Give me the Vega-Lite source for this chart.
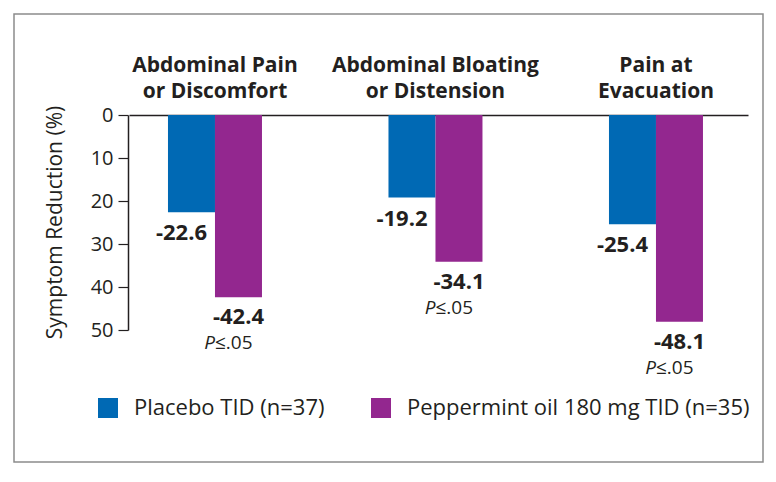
{
  "$schema": "https://vega.github.io/schema/vega-lite/v6.json",
  "width": 749,
  "height": 448,
  "autosize": {"type": "none"},
  "padding": {"left": 14, "top": 14, "right": 13, "bottom": 20},
  "background": "white",
  "config": {
    "view": {"stroke": "#8c8c8c", "strokeWidth": 1.5},
    "font": "Open Sans"
  },
  "data": {
    "values": [
      {"symptom": "Abdominal Pain|or Discomfort", "group": "Placebo TID (n=37)", "value": -22.6, "significant": false},
      {"symptom": "Abdominal Pain|or Discomfort", "group": "Peppermint oil 180 mg TID (n=35)", "value": -42.4, "significant": true},
      {"symptom": "Abdominal Bloating|or Distension", "group": "Placebo TID (n=37)", "value": -19.2, "significant": false},
      {"symptom": "Abdominal Bloating|or Distension", "group": "Peppermint oil 180 mg TID (n=35)", "value": -34.1, "significant": true},
      {"symptom": "Pain at|Evacuation", "group": "Placebo TID (n=37)", "value": -25.4, "significant": false},
      {"symptom": "Pain at|Evacuation", "group": "Peppermint oil 180 mg TID (n=35)", "value": -48.1, "significant": true}
    ]
  },
  "encoding": {
    "x": {
      "field": "symptom",
      "type": "nominal",
      "sort": null,
      "scale": {"range": [115, 734], "paddingInner": 0.5737, "paddingOuter": 0.1905, "align": 0.464},
      "axis": {
        "orient": "top",
        "offset": -101,
        "title": null,
        "ticks": false,
        "domainColor": "#231f20",
        "domainWidth": 1.5,
        "labelExpr": "split(datum.label, '|')",
        "labelFontSize": 21,
        "labelFontWeight": "bold",
        "labelColor": "#231f20",
        "labelLineHeight": 26,
        "labelPadding": 40,
        "labelLimit": 0,
        "labelAngle": 0,
        "labelOverlap": false,
        "labelBound": false
      }
    },
    "y": {
      "field": "value",
      "type": "quantitative",
      "scale": {"domain": [-50, 0], "range": [316, 101], "nice": false, "zero": false},
      "axis": {
        "orient": "left",
        "offset": -114,
        "values": [-50, -40, -30, -20, -10, 0],
        "labelExpr": "abs(datum.value)",
        "grid": false,
        "tickSize": 10,
        "tickColor": "#231f20",
        "tickWidth": 1.2,
        "domainColor": "#231f20",
        "domainWidth": 1.5,
        "labelFontSize": 20,
        "labelColor": "#231f20",
        "labelPadding": 5,
        "labelOverlap": false,
        "title": "Symptom Reduction (%)",
        "titleFontSize": 21,
        "titleFontWeight": "normal",
        "titleColor": "#231f20",
        "titleX": -73,
        "titleY": 208,
        "titleAngle": -90,
        "titleAlign": "center",
        "titleBaseline": "middle"
      }
    }
  },
  "layer": [
    {
      "mark": {"type": "bar"},
      "encoding": {
        "xOffset": {"field": "group", "type": "nominal", "scale": {"domain": ["Placebo TID (n=37)", "Peppermint oil 180 mg TID (n=35)"], "paddingInner": 0, "paddingOuter": 0}},
        "color": {
          "field": "group",
          "type": "nominal",
          "scale": {"domain": ["Placebo TID (n=37)", "Peppermint oil 180 mg TID (n=35)"], "range": ["#0069b4", "#93278f"]},
          "legend": {
            "orient": "none",
            "legendX": 83,
            "legendY": 383,
            "direction": "horizontal",
            "title": null,
            "symbolType": "square",
            "symbolSize": 400,
            "symbolStrokeWidth": 0,
            "symbolOpacity": 1,
            "labelFontSize": 22,
            "labelColor": "#231f20",
            "labelOffset": 15,
            "columnPadding": 45,
            "labelLimit": 0,
            "padding": 0
          }
        }
      }
    },
    {
      "transform": [
        {"filter": "datum.group === 'Placebo TID (n=37)'"},
        {"calculate": "'-' + format(abs(datum.value), '.1f')", "as": "label"}
      ],
      "mark": {"type": "text", "baseline": "top", "dy": 11, "dx": -10, "fontSize": 22, "fontWeight": "bold", "color": "#231f20"},
      "encoding": {
        "xOffset": {"field": "group", "type": "nominal", "scale": {"domain": ["Placebo TID (n=37)", "Peppermint oil 180 mg TID (n=35)"]}},
        "text": {"field": "label", "type": "nominal"}
      }
    },
    {
      "transform": [
        {"filter": "datum.group === 'Peppermint oil 180 mg TID (n=35)'"},
        {"calculate": "'-' + format(abs(datum.value), '.1f')", "as": "label"}
      ],
      "mark": {"type": "text", "baseline": "top", "dy": 10, "fontSize": 22, "fontWeight": "bold", "color": "#231f20"},
      "encoding": {
        "xOffset": {"field": "group", "type": "nominal", "scale": {"domain": ["Placebo TID (n=37)", "Peppermint oil 180 mg TID (n=35)"]}},
        "text": {"field": "label", "type": "nominal"}
      }
    },
    {
      "transform": [{"filter": "datum.significant"}],
      "mark": {"type": "text", "text": "P", "align": "right", "baseline": "top", "dy": 37, "fontSize": 19, "fontStyle": "italic", "color": "#231f20"},
      "encoding": {}
    },
    {
      "transform": [{"filter": "datum.significant"}],
      "mark": {"type": "text", "text": "≤.05", "align": "left", "baseline": "top", "dy": 37, "fontSize": 19, "color": "#231f20"},
      "encoding": {}
    }
  ]
}
